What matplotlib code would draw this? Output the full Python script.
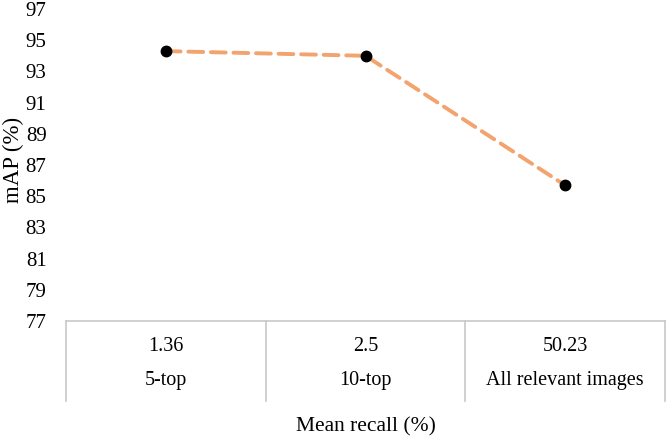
import matplotlib.pyplot as plt
import matplotlib.transforms as mtransforms

# Data
recall_labels = ['1.36', '2.5', '50.23']
top_labels = ['5-top', '10-top', 'All relevant images']
map_values = [94.3, 94.0, 85.7]
y_ticks = [77, 79, 81, 83, 85, 87, 89, 91, 93, 95, 97]

plt.rcParams['font.family'] = ['Liberation Serif', 'DejaVu Serif']

fig = plt.figure(figsize=(6.66, 4.44), dpi=100)
ax = fig.add_axes([66/666, 1 - 321/444, 599/666, 312/444])

x = list(range(len(map_values)))
ax.plot(x, map_values, color='#F2A36E', lw=2.8, ls=(0, (3.8, 2.0)),
        dash_capstyle='round', zorder=2)
ax.plot(x, map_values, 'o', color='black', ms=7.5, zorder=3)

ax.set_xlim(-0.5, 2.5)
ax.set_ylim(77, 97)
ax.set_yticks(y_ticks)
ax.tick_params(axis='y', length=0, pad=14, labelsize=15)
ax.set_xticks([])

for s in ['top', 'right', 'left']:
    ax.spines[s].set_visible(False)
ax.spines['bottom'].set_color('#C8C8C8')
ax.spines['bottom'].set_linewidth(1.2)

# category table below the axis
trans = mtransforms.blended_transform_factory(ax.transData, ax.transAxes)
for xb in [-0.5, 0.5, 1.5, 2.5]:
    ax.plot([xb, xb], [0, -0.255], color='#C8C8C8', lw=1.2,
            transform=trans, clip_on=False)
for i in x:
    ax.text(i, -0.083, recall_labels[i], transform=trans, ha='center',
            va='center', fontsize=14.5)
    ax.text(i, -0.19, top_labels[i], transform=trans, ha='center',
            va='center', fontsize=14.5)

ax.text(1, -0.34, 'Mean recall (%)', transform=trans, ha='center',
        va='center', fontsize=15.5)
fig.text(13/666, 1 - 160/444, 'mAP (%)', rotation=90, ha='center',
         va='center', fontsize=16.5)

plt.savefig('out.png', dpi=100)
